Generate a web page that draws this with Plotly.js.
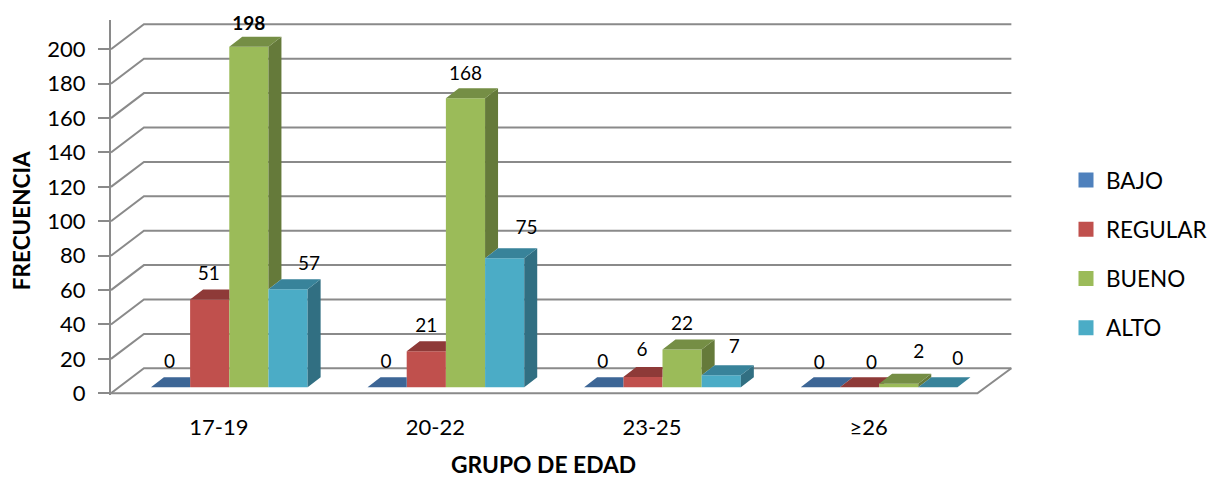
<!DOCTYPE html>
<html>
<head>
<meta charset="utf-8">
<script src="https://cdn.plot.ly/plotly-3.0.1.min.js"></script>
<style>html,body{margin:0;padding:0;background:#fff}#chart{width:1212px;height:479px}</style>
</head>
<body>
<div id="chart"></div>
<script>
// ---- data ----
const categories = ['17-19', '20-22', '23-25', '≥26'];
const seriesNames = ['BAJO', 'REGULAR', 'BUENO', 'ALTO'];
const bajo = [0, 0, 0, 0];
const regular = [51, 21, 6, 0];
const bueno = [198, 168, 22, 2];
const alto = [57, 75, 7, 0];
const yTicks = [0, 20, 40, 60, 80, 100, 120, 140, 160, 180, 200];

// ---- styling ----
const frontColors = ['#4F81BD', '#C0504D', '#9BBB59', '#4BACC6'];
const topColors = ['#3D6696', '#8E3A38', '#758E45', '#38839A'];
const sideColors = ['#345376', '#7D3432', '#657A3A', '#316F82'];
const gridColor = '#8A8A8A';
const FONT = 'Lato, Carlito, Calibri, sans-serif';

// label nudges in pixels: [right of bar centre], [above bar front top]
const labelDx = [[-1, -1, -1, -1], [-1, 0, -1, 12], [0, 0, 0, 20], [21, 22, 13, 20]];
const labelUp = [[24, 24, 24, 23], [24, 24, 26, 23], [21, 23, 24, 31], [24, 29, 27, 27]];

// ---- pseudo-3D projection, as axis units ----
const PX_X = 1 / 217;      // x units per pixel
const PX_Y = 1 / 1.72;     // y units per pixel
const barW = 39.25 * PX_X;
const firstLeft = (151 - 219) * PX_X;
const barBase = 6 * PX_Y;        // bars stand slightly behind the floor's front edge
const barDx = 13 * PX_X, barDy = 10 * PX_Y;   // depth of a bar
const wallDx = 33 * PX_X, wallDy = 25 * PX_Y; // depth of the floor
const xMin = (111 - 219) * PX_X, xMax = (1212 - 219) * PX_X, xBackEnd = (1013 - 219) * PX_X;
const floorFrontEnd = (979 - 219) * PX_X;

const all = [bajo, regular, bueno, alto];
const traces = [];

// front faces: real bars
all.forEach((vals, s) => {
  traces.push({
    type: 'bar', name: seriesNames[s], x: categories.map((c, i) => i), y: vals,
    base: barBase, width: barW, offset: firstLeft + s * barW,
    marker: {color: frontColors[s], line: {width: 0}},
    showlegend: false, hovertemplate: seriesNames[s] + ' %{customdata}: %{y}<extra></extra>',
    customdata: categories
  });
});

// side and top faces, derived from the same values
all.forEach((vals, s) => {
  const sx = [], sy = [], tx = [], ty = [];
  vals.forEach((v, i) => {
    const L = i + firstLeft + s * barW, R = L + barW;
    const t = v + barBase;
    const nextT = s < all.length - 1 ? all[s + 1][i] + barBase : barBase;
    const low = Math.max(nextT, barBase);
    if (low < t) {
      sx.push(R, R + barDx, R + barDx, R, R, null);
      sy.push(t, t + barDy, low + barDy, low, t, null);
    }
    if (s < all.length - 1 && nextT >= t + barDy) {
      tx.push(L, R, R, L + barDx, L, null);
      ty.push(t, t, t + barDy, t + barDy, t, null);
    } else if (s < all.length - 1 && nextT > t) {
      const f = (nextT - t) / barDy;
      tx.push(L, R, R, R + barDx * f, R + barDx, L + barDx, L, null);
      ty.push(t, t, nextT, nextT, t + barDy, t + barDy, t, null);
    } else {
      tx.push(L, R, R + barDx, L + barDx, L, null);
      ty.push(t, t, t + barDy, t + barDy, t, null);
    }
  });
  const face = (x, y, c) => ({
    type: 'scatter', mode: 'lines', x, y, fill: 'toself', fillcolor: c,
    line: {width: 0, color: c}, hoverinfo: 'skip', showlegend: false, connectgaps: false
  });
  traces.push(face(sx, sy, sideColors[s]));
  traces.push(face(tx, ty, topColors[s]));
});

// value labels
all.forEach((vals, s) => {
  traces.push({
    type: 'scatter', mode: 'text', showlegend: false, hoverinfo: 'skip', cliponaxis: false,
    x: vals.map((v, i) => i + firstLeft + (s + 0.5) * barW + labelDx[s][i] * PX_X),
    y: vals.map((v, i) => v + barBase + labelUp[s][i] * PX_Y),
    text: vals.map(v => v === 198 ? '<b>' + v + '</b>' : String(v)),
    textposition: 'middle center',
    textfont: {family: FONT, size: 19, color: '#000'}
  });
});

// legend entries
seriesNames.forEach((n, s) => {
  traces.push({
    type: 'scatter', mode: 'markers', name: n, x: [null], y: [null], legendgroup: n,
    marker: {symbol: 'square', size: 15, color: frontColors[s]}, hoverinfo: 'skip'
  });
});

// walls: gridlines running along the side wall and back wall
const gridPath = t => `M${xMin},${t} L${xMin + wallDx},${t + wallDy} L${xBackEnd},${t + wallDy}`;
const shapes = yTicks.map(t => ({
  type: 'path', xref: 'x', yref: 'y', layer: 'below', path: gridPath(t),
  line: {color: gridColor, width: 2}
}));
shapes.push({
  type: 'path', xref: 'x', yref: 'y', layer: 'below',
  path: `M${xMin},0 L${floorFrontEnd},0 L${xBackEnd},${wallDy}`,
  line: {color: gridColor, width: 2}
});

const layout = {
  width: 1212, height: 479,
  margin: {l: 111, r: 0, t: 20, b: 84, pad: 0},
  paper_bgcolor: '#fff', plot_bgcolor: 'rgba(0,0,0,0)',
  barmode: 'overlay', hovermode: 'closest',
  font: {family: FONT, color: '#000'},
  xaxis: {
    type: 'linear', range: [xMin, xMax], tickmode: 'array',
    tickvals: categories.map((c, i) => i), ticktext: categories,
    showgrid: false, zeroline: false, showline: false, ticks: '',
    ticklabelstandoff: 17, tickfont: {family: FONT, size: 22, color: '#000'}, fixedrange: true
  },
  yaxis: {
    range: [-1, 217.02], tickmode: 'array', tickvals: yTicks,
    showgrid: false, zeroline: false, showline: true, linecolor: gridColor, linewidth: 2,
    ticks: 'outside', ticklen: 11, tickwidth: 2, tickcolor: gridColor,
    ticklabelstandoff: 8, tickfont: {family: FONT, size: 22, color: '#000'}, fixedrange: true
  },
  shapes,
  annotations: [
    {text: '<b>GRUPO DE EDAD</b>', xref: 'paper', yref: 'paper', x: (544 - 111) / 1101, y: (395 - 480) / 375,
     xanchor: 'center', yanchor: 'bottom', showarrow: false, font: {family: FONT, size: 22.8, color: '#000'}},
    {text: '<b>FRECUENCIA</b>', xref: 'paper', yref: 'paper', x: (21 - 111) / 1101, y: (395 - 221) / 375,
     xanchor: 'center', yanchor: 'middle', textangle: -90, showarrow: false, font: {family: FONT, size: 22.5, color: '#000'}}
  ],
  legend: {
    x: (1068 - 111) / 1101, y: 0.63, xanchor: 'left', yanchor: 'top', bgcolor: 'rgba(0,0,0,0)',
    traceorder: 'grouped', tracegroupgap: 17, itemclick: false, itemdoubleclick: false,
    entrywidth: 60, entrywidthmode: 'pixels',
    font: {family: FONT, size: 22.5, color: '#000'}
  }
};

Plotly.newPlot('chart', traces, layout, {displayModeBar: false, responsive: false});
</script>
</body>
</html>
